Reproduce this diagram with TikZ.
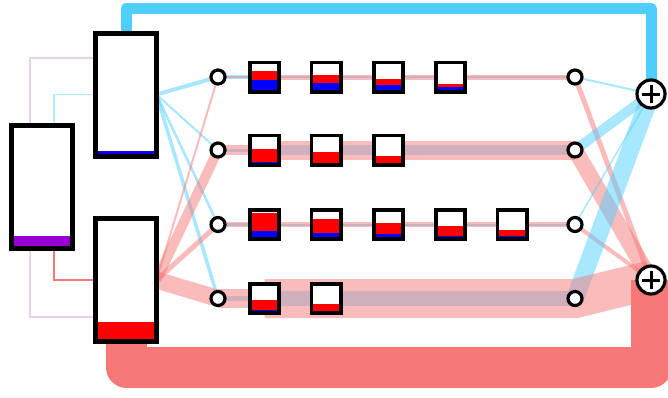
\documentclass[tikz,border=0pt]{standalone}
\usetikzlibrary{calc}
\definecolor{fbblue}{RGB}{79,207,255}
\definecolor{fbred}{RGB}{246,120,120}
\definecolor{lvblue}{RGB}{0,0,255}
\definecolor{lvred}{RGB}{255,0,0}
\definecolor{lvpurple}{RGB}{148,0,211}
\definecolor{lavline}{RGB}{230,210,232}
\definecolor{ltblue}{RGB}{176,234,255}
\pgfdeclarelayer{bg}
\pgfsetlayers{bg,main}
\begin{document}
\begin{tikzpicture}[x=1pt,y=-1pt,
  bigbox/.style={draw,line width=5pt,fill=white,minimum width=61pt,minimum height=123pt,inner sep=0pt,outer sep=0pt},
  sqbox/.style={draw,line width=3.8pt,fill=white,minimum size=29.2pt,inner sep=0pt,outer sep=0pt},
  dot/.style={circle,draw,line width=3.2pt,fill=white,minimum size=14pt,inner sep=0pt,outer sep=0pt},
  plusnode/.style={circle,draw,line width=3.2pt,fill=white,minimum size=28pt,inner sep=0pt,outer sep=0pt,
    path picture={\draw[line width=3pt] ([xshift=-9pt]path picture bounding box.center) -- ([xshift=9pt]path picture bounding box.center) ([yshift=-9pt]path picture bounding box.center) -- ([yshift=9pt]path picture bounding box.center);}},
  lvl/.style n args={3}{path picture={
    \fill[lvblue] (path picture bounding box.south west) rectangle ([yshift=#1+#2]path picture bounding box.south east);
    \fill[lvred] ([yshift=#1+#2]path picture bounding box.south west) rectangle ([yshift=#1+#2+#3]path picture bounding box.south east);}},
  pbar/.style={path picture={\fill[lvpurple] (path picture bounding box.south west) rectangle ([yshift=12.5pt]path picture bounding box.south east);}},
  bfl/.style={draw=fbblue,draw opacity=0.5,line cap=butt},
  rfl/.style={draw=fbred,draw opacity=0.5,line cap=butt},
  thinl/.style={line width=1.5pt},
]
\useasboundingbox (0,0) rectangle (668,397);

% nodes
\node[bigbox,pbar] (boxP) at (42.25,187) {};
\node[bigbox,lvl={2.5pt}{3pt}{0pt}] (boxB) at (126,94.5) {};
\node[bigbox,lvl={2.5pt}{0pt}{17pt}] (boxR) at (126,280) {};

\node[dot] (C1) at (218,77) {};
\node[dot] (C2) at (218,150) {};
\node[dot] (C3) at (218,224.5) {};
\node[dot] (C4) at (218,298.5) {};
\node[dot] (R1) at (575,77) {};
\node[dot] (R2) at (575,150) {};
\node[dot] (R3) at (575,224.5) {};
\node[dot] (R4) at (575,298.5) {};
\node[plusnode] (P1) at (651,94) {};
\node[plusnode] (P2) at (651,280) {};

\node[sqbox,lvl={1.9pt}{9.75pt}{9.1pt}] (S11) at (264.5,77) {};
\node[sqbox,lvl={1.9pt}{6.8pt}{7.8pt}] (S12) at (326,77) {};
\node[sqbox,lvl={1.9pt}{5.2pt}{5.85pt}] (S13) at (388.5,77) {};
\node[sqbox,lvl={1.9pt}{2.3pt}{3.9pt}] (S14) at (450.5,77) {};

\node[sqbox,lvl={1.9pt}{0.5pt}{13.5pt}] (S21) at (264.5,150) {};
\node[sqbox,lvl={1.9pt}{0pt}{10.4pt}] (S22) at (326,150) {};
\node[sqbox,lvl={1.9pt}{0pt}{6.5pt}] (S23) at (388.5,150) {};

\node[sqbox,lvl={1.9pt}{6pt}{18.4pt}] (S31) at (264.5,224.5) {};
\node[sqbox,lvl={1.9pt}{4.4pt}{13.5pt}] (S32) at (326,224.5) {};
\node[sqbox,lvl={1.9pt}{3.1pt}{11.4pt}] (S33) at (388.5,224.5) {};
\node[sqbox,lvl={1.9pt}{1.6pt}{9.9pt}] (S34) at (450.5,224.5) {};
\node[sqbox,lvl={1.9pt}{1pt}{6.2pt}] (S35) at (512,224.5) {};

\node[sqbox,lvl={1.9pt}{0.8pt}{10.7pt}] (S41) at (264.5,298.5) {};
\node[sqbox,lvl={1.9pt}{0pt}{7.3pt}] (S42) at (326,298.5) {};

\begin{pgfonlayer}{bg}
% feedback loops
\draw[fbblue,line width=11pt,line join=round] (boxB.center) -- (boxB.center |- 0,8.5) -| (P1.center);
\draw[fbred,line width=41pt,line join=round] (boxR.center) -- (boxR.center |- 0,367) -| (P2.center);

% thin links from the left box
\draw[lavline,thinl] (30,0 |- boxP.north) |- (boxB.west |- 0,58);
\draw[ltblue,thinl] (54,0 |- boxP.north) |- (boxB.west);
\draw[fbred,thinl] (54,0 |- boxP.south) |- (boxR.west);
\draw[lavline,thinl] (30,0 |- boxP.south) |- (boxR.west |- 0,317);

% fans from the two boxes
\draw[bfl,line width=4pt] (boxB.east) -- (C1.center);
\draw[bfl,line width=2pt] (boxB.east) -- (C2.center);
\draw[bfl,line width=2.5pt] (boxB.east) -- (C3.center);
\draw[bfl,line width=3.5pt] (boxB.east) -- (C4.center);
\draw[rfl,line width=2pt] (boxR.east) -- (C1.center);
\draw[rfl,line width=10pt] (boxR.east) -- (C2.center);
\draw[rfl,line width=5pt] (boxR.east) -- (C3.center);
\draw[rfl,line width=17pt] (boxR.east) -- (C4.center);

% row 1
\draw[bfl,line width=4pt] (C1.center) -- (S11.center);
\draw[bfl,line width=2pt] (S11.center) -- (R1.center);
\draw[bfl,line width=2pt] (R1.center) -- (P1.center);
\draw[rfl,line width=2pt] (C1.center) -- (S11.center);
\draw[rfl,line width=5pt] (S11.center) -- (R1.center);
\draw[rfl,line width=5pt] (R1.center) -- (P2.center);
% row 2
\draw[bfl,line width=3pt] (C2.center) -- (S21.center);
\draw[bfl,line width=10pt] (S21.center) -- (R2.center);
\draw[bfl,line width=10pt] (R2.center) -- (P1.center);
\draw[rfl,line width=10pt] (C2.center) -- (S21.center);
\draw[rfl,line width=19pt] (S21.center) -- (R2.center);
\draw[rfl,line width=16pt] (R2.center) -- (P2.center);
% row 3
\draw[bfl,line width=2.5pt] (C3.center) -- (S31.center);
\draw[bfl,line width=2pt] (S31.center) -- (R3.center);
\draw[bfl,line width=1.5pt] (R3.center) -- (P1.center);
\draw[rfl,line width=5pt] (C3.center) -- (S31.center);
\draw[rfl,line width=4.5pt] (S31.center) -- (R3.center);
\draw[rfl,line width=4pt] (R3.center) -- (P2.center);
% row 4
\draw[bfl,line width=5pt] (C4.center) -- (S41.center);
\draw[bfl,line width=15pt] (S41.center) -- (R4.center);
\draw[bfl,line width=18pt] (R4.center) -- (P1.center);
\draw[rfl,line width=19pt] (C4.center) -- (S41.center);
\draw[rfl,line width=39pt,line join=miter] (S41.center) -- (R4.center) -- (P2.center);
\end{pgfonlayer}
\end{tikzpicture}
\end{document}
